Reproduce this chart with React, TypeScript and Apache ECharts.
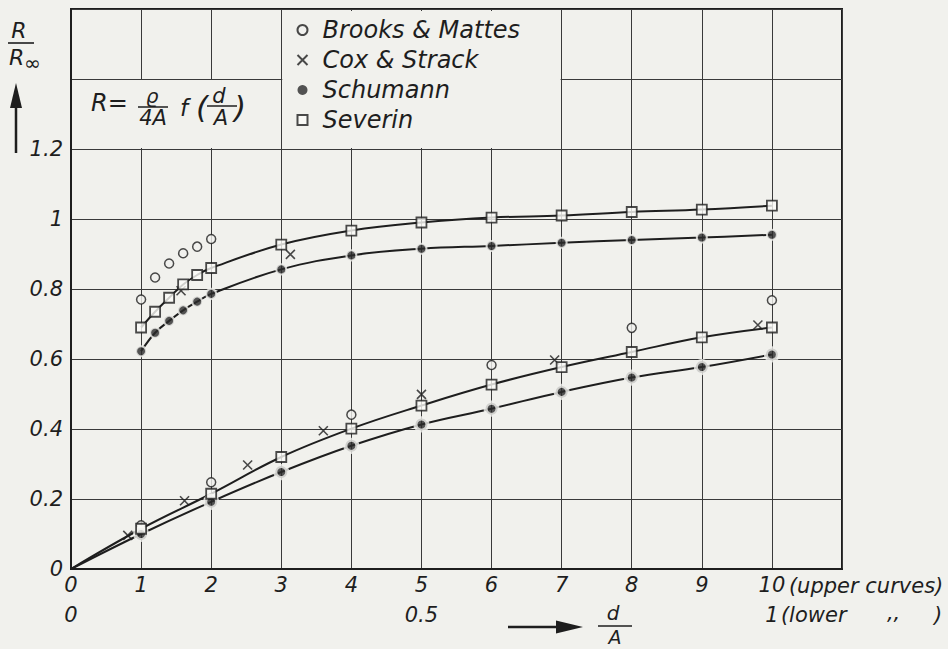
import React, { useEffect, useRef } from 'react';
import * as echarts from 'echarts';

const BG = '#f1f1ed';
const INK = '#1e1e1e';
const GRID = '#3a3a3a';
const FONT = 'DejaVu Sans';

// ---------- upper curves (x = d/A, 0..10) ----------
const upperX = [1, 1.2, 1.4, 1.6, 1.8, 2, 3, 4, 5, 6, 7, 8, 9, 10];
const severinUpper = [0.69, 0.735, 0.775, 0.813, 0.84, 0.86, 0.927, 0.967, 0.99, 1.004, 1.01, 1.02, 1.027, 1.038];
const schumannUpper = [0.622, 0.675, 0.709, 0.739, 0.764, 0.786, 0.856, 0.896, 0.915, 0.923, 0.932, 0.94, 0.947, 0.955];
const brooksUpperX = [1, 1.2, 1.4, 1.6, 1.8, 2];
const brooksUpper = [0.77, 0.833, 0.873, 0.902, 0.921, 0.943];
const coxUpperX = [1.57, 3.13];
const coxUpper = [0.795, 0.899];

// ---------- lower curves (x = d/A, 0..1) ----------
const lowerX = [0.1, 0.2, 0.3, 0.4, 0.5, 0.6, 0.7, 0.8, 0.9, 1.0];
const severinLower = [0.115, 0.215, 0.32, 0.401, 0.467, 0.527, 0.577, 0.62, 0.662, 0.69];
const schumannLower = [0.1, 0.192, 0.277, 0.352, 0.413, 0.458, 0.506, 0.547, 0.577, 0.613];
const brooksLowerX = [0.1, 0.2, 0.4, 0.6, 0.8, 1.0];
const brooksLower = [0.125, 0.248, 0.441, 0.583, 0.689, 0.768];
const coxLowerX = [0.081, 0.162, 0.252, 0.36, 0.5, 0.69, 0.98];
const coxLower = [0.096, 0.195, 0.297, 0.395, 0.499, 0.597, 0.697];

const legendNames = ['Brooks & Mattes', 'Cox & Strack', 'Schumann', 'Severin'];
const upperTickMax = 10;
const lowerTickLabels = ['0', '0.5', '1'];

const zip = (xs: number[], ys: number[]) => xs.map((x, i) => [x, ys[i]]);

const CROSS = 'path://M0,0L10,10M10,0L0,10';

const txt = (o: any) => ({
  fontFamily: FONT,
  fontStyle: 'italic',
  fill: INK,
  ...o,
});

export default function App() {
  const ref = useRef<HTMLDivElement>(null);

  useEffect(() => {
    const chart = echarts.init(ref.current!, null, { renderer: 'svg' });

    const labelStyle = {
      fontFamily: FONT,
      fontStyle: 'italic',
      fontSize: 21,
      color: INK,
    };

    const circleStyle = { color: BG, borderColor: INK, borderWidth: 1.5 };
    const squareStyle = { color: '#fbfbf8', borderColor: INK, borderWidth: 1.8 };
    const dotStyle = { color: '#2a2a2a', borderColor: BG, borderWidth: 3 };
    const crossStyle = { color: 'none', borderColor: INK, borderWidth: 1.6 };

    const option: any = {
      animation: false,
      backgroundColor: BG,
      grid: {
        left: 71,
        top: 9,
        width: 771,
        height: 560,
        show: true,
        borderColor: INK,
        borderWidth: 2,
        backgroundColor: 'transparent',
      },
      legend: {
        show: true,
        orient: 'vertical',
        left: 290,
        top: 13,
        itemWidth: 10,
        itemHeight: 10,
        itemGap: 6,
        itemTextGap: 8,
        selectedMode: false,
        textStyle: { ...labelStyle, fontSize: 24, lineHeight: 24, padding: [0, 0, 0, 10] },
        data: [
          { name: legendNames[0] },
          { name: legendNames[1] },
          { name: legendNames[2], itemStyle: { borderWidth: 0 } },
          { name: legendNames[3] },
        ],
      },
      xAxis: [
        {
          type: 'value',
          min: 0,
          max: 11,
          interval: 1,
          position: 'bottom',
          axisLine: { show: true, onZero: false, lineStyle: { color: INK, width: 2 } },
          axisTick: { show: false },
          splitLine: { show: true, lineStyle: { color: GRID, width: 1 } },
          axisLabel: {
            ...labelStyle,
            margin: 5,
            formatter: (v: number) => (v <= upperTickMax ? String(v) : ''),
          },
        },
        {
          type: 'value',
          min: 0,
          max: 1.1,
          interval: 0.5,
          position: 'bottom',
          offset: 30,
          axisLine: { show: false },
          axisTick: { show: false },
          splitLine: { show: false },
          axisLabel: {
            ...labelStyle,
            margin: 5,
            formatter: (v: number) => {
              const i = Math.round(v / 0.5);
              return Math.abs(v - i * 0.5) < 1e-9 && i < lowerTickLabels.length ? lowerTickLabels[i] : '';
            },
          },
        },
      ],
      yAxis: {
        type: 'value',
        min: 0,
        max: 1.6,
        interval: 0.2,
        axisLine: { show: true, onZero: false, lineStyle: { color: INK, width: 2 } },
        axisTick: { show: false },
        splitLine: { show: true, lineStyle: { color: GRID, width: 1 } },
        axisLabel: {
          ...labelStyle,
          margin: 8,
          formatter: (v: number) => {
            if (v > 1.3) return '';
            if (Math.abs(v) < 1e-9) return '0';
            if (Math.abs(v - 1) < 1e-9) return '1';
            return v.toFixed(1);
          },
        },
      },
      series: [
        // fitted curves
        {
          name: 'Severin curve upper',
          type: 'line',
          xAxisIndex: 0,
          data: zip(upperX, severinUpper),
          showSymbol: false,
          smooth: 0.4,
          lineStyle: { color: INK, width: 2 },
          z: 2,
        },
        {
          name: 'Schumann curve upper',
          type: 'line',
          xAxisIndex: 0,
          data: zip(upperX, schumannUpper),
          showSymbol: false,
          smooth: 0.4,
          lineStyle: { color: INK, width: 2 },
          z: 2,
        },
        {
          name: 'Severin curve lower',
          type: 'line',
          xAxisIndex: 1,
          data: [[0, 0], ...zip(lowerX, severinLower)],
          showSymbol: false,
          smooth: 0.4,
          lineStyle: { color: INK, width: 2 },
          z: 2,
        },
        {
          name: 'Schumann curve lower',
          type: 'line',
          xAxisIndex: 1,
          data: [[0, 0], ...zip(lowerX, schumannLower)],
          showSymbol: false,
          smooth: 0.4,
          lineStyle: { color: INK, width: 2 },
          z: 2,
        },
        // measured points
        {
          name: legendNames[0], type: 'scatter', xAxisIndex: 0,
          data: zip(brooksUpperX, brooksUpper), symbol: 'circle', symbolSize: 9,
          itemStyle: circleStyle, z: 3,
        },
        {
          name: legendNames[0], type: 'scatter', xAxisIndex: 1,
          data: zip(brooksLowerX, brooksLower), symbol: 'circle', symbolSize: 9,
          itemStyle: circleStyle, z: 3,
        },
        {
          name: legendNames[1], type: 'scatter', xAxisIndex: 0,
          data: zip(coxUpperX, coxUpper), symbol: CROSS, symbolSize: 9,
          itemStyle: crossStyle, z: 3,
        },
        {
          name: legendNames[1], type: 'scatter', xAxisIndex: 1,
          data: zip(coxLowerX, coxLower), symbol: CROSS, symbolSize: 9,
          itemStyle: crossStyle, z: 3,
        },
        {
          name: legendNames[2], type: 'scatter', xAxisIndex: 0,
          data: zip(upperX, schumannUpper), symbol: 'circle', symbolSize: 10,
          itemStyle: { ...dotStyle, borderWidth: 2 }, z: 3,
        },
        {
          name: legendNames[2], type: 'scatter', xAxisIndex: 1,
          data: zip(lowerX, schumannLower), symbol: 'circle', symbolSize: 12,
          itemStyle: { ...dotStyle, borderWidth: 4 }, z: 3,
        },
        {
          name: legendNames[3], type: 'scatter', xAxisIndex: 0,
          data: zip(upperX, severinUpper), symbol: 'rect', symbolSize: 10,
          itemStyle: squareStyle, z: 4,
        },
        {
          name: legendNames[3], type: 'scatter', xAxisIndex: 1,
          data: zip(lowerX, severinLower), symbol: 'rect', symbolSize: 10,
          itemStyle: squareStyle, z: 4,
        },
      ],
    };

    chart.setOption(option);

    const pu = (x: number, y: number) => chart.convertToPixel({ seriesIndex: 0 }, [x, y]) as number[];
    const pl = (x: number, y: number) => chart.convertToPixel({ seriesIndex: 2 }, [x, y]) as number[];

    const [x0, y12] = pu(0, 1.2);
    const [x3, y14] = pu(3, 1.4);
    const [x7, y16] = pu(7, 1.6);
    const [x10, y0] = pu(10, 0);
    const [xl1] = pl(1, 0);

    const graphic: any[] = [
      // blank panels (formula box and key box)
      {
        type: 'rect', z: 1, silent: true,
        shape: { x: x0 + 2, y: y14 + 1, width: x3 - x0 - 3, height: y12 - y14 - 2 },
        style: { fill: BG },
      },
      {
        type: 'rect', z: 1, silent: true,
        shape: { x: x3 + 1, y: y16 + 2, width: x7 - x3 - 2, height: y12 - y16 - 3 },
        style: { fill: BG },
      },
      // formula R = rho/(4A) f(d/A)
      { type: 'text', z: 6, x: 91, y: 103, style: txt({ text: 'R=', fontSize: 24, verticalAlign: 'middle' }) },
      { type: 'text', z: 6, x: 152, y: 96, style: txt({ text: 'ϱ', fontSize: 20, align: 'center', verticalAlign: 'middle' }) },
      { type: 'line', z: 6, shape: { x1: 138, y1: 107, x2: 168, y2: 107 }, style: { stroke: INK, lineWidth: 1.5 } },
      { type: 'text', z: 6, x: 153, y: 118, style: txt({ text: '4A', fontSize: 21, align: 'center', verticalAlign: 'middle' }) },
      { type: 'text', z: 6, x: 184, y: 108, style: txt({ text: 'f', fontSize: 23, align: 'center', verticalAlign: 'middle' }) },
      { type: 'text', z: 6, x: 202, y: 107, style: txt({ text: '(', fontSize: 31, align: 'center', verticalAlign: 'middle' }) },
      { type: 'text', z: 6, x: 219, y: 96, style: txt({ text: 'd', fontSize: 21, align: 'center', verticalAlign: 'middle' }) },
      { type: 'line', z: 6, shape: { x1: 207, y1: 106, x2: 237, y2: 106 }, style: { stroke: INK, lineWidth: 1.5 } },
      { type: 'text', z: 6, x: 221, y: 118, style: txt({ text: 'A', fontSize: 21, align: 'center', verticalAlign: 'middle' }) },
      { type: 'text', z: 6, x: 240, y: 107, style: txt({ text: ')', fontSize: 31, align: 'center', verticalAlign: 'middle' }) },

      // y-axis name R / R∞ with arrow
      { type: 'text', z: 6, x: 19, y: 30, style: txt({ text: 'R', fontSize: 22, align: 'center', verticalAlign: 'middle' }) },
      { type: 'line', z: 6, shape: { x1: 8, y1: 43, x2: 34, y2: 43 }, style: { stroke: INK, lineWidth: 1.6 } },
      { type: 'text', z: 6, x: 9, y: 57, style: txt({ text: 'R', fontSize: 22, verticalAlign: 'middle' }) },
      { type: 'text', z: 6, x: 24, y: 63, style: txt({ text: '∞', fontSize: 20, fontStyle: 'normal', verticalAlign: 'middle' }) },
      { type: 'polygon', z: 6, shape: { points: [[16, 83], [10, 108], [22, 108]] }, style: { fill: INK } },
      { type: 'line', z: 6, shape: { x1: 16, y1: 104, x2: 16, y2: 153 }, style: { stroke: INK, lineWidth: 2.5 } },

      // x-axis name  ---> d/A
      { type: 'line', z: 6, shape: { x1: 508, y1: 627, x2: 560, y2: 627 }, style: { stroke: INK, lineWidth: 2.5 } },
      { type: 'polygon', z: 6, shape: { points: [[583, 627], [556, 620.5], [556, 633.5]] }, style: { fill: INK } },
      { type: 'text', z: 6, x: 613, y: 613, style: txt({ text: 'd', fontSize: 20, align: 'center', verticalAlign: 'middle' }) },
      { type: 'line', z: 6, shape: { x1: 598, y1: 626, x2: 632, y2: 626 }, style: { stroke: INK, lineWidth: 1.6 } },
      { type: 'text', z: 6, x: 615, y: 637, style: txt({ text: 'A', fontSize: 19, align: 'center', verticalAlign: 'middle' }) },

      // axis range notes
      { type: 'text', z: 6, x: x10 + 17, y: y0 + 17, style: txt({ text: '(upper curves)', fontSize: 21, verticalAlign: 'middle' }) },
      { type: 'text', z: 6, x: xl1 + 9, y: y0 + 46, style: txt({ text: '(lower', fontSize: 21, verticalAlign: 'middle' }) },
      { type: 'text', z: 6, x: xl1 + 115, y: y0 + 44, style: txt({ text: ',,', fontSize: 21, verticalAlign: 'middle' }) },
      { type: 'text', z: 6, x: xl1 + 162, y: y0 + 46, style: txt({ text: ')', fontSize: 21, verticalAlign: 'middle' }) },
    ];

    chart.setOption({ graphic });

    return () => chart.dispose();
  }, []);

  return (
    <div
      ref={ref}
      style={{ position: 'fixed', left: 0, top: 0, width: 948, height: 649, background: BG }}
    />
  );
}
